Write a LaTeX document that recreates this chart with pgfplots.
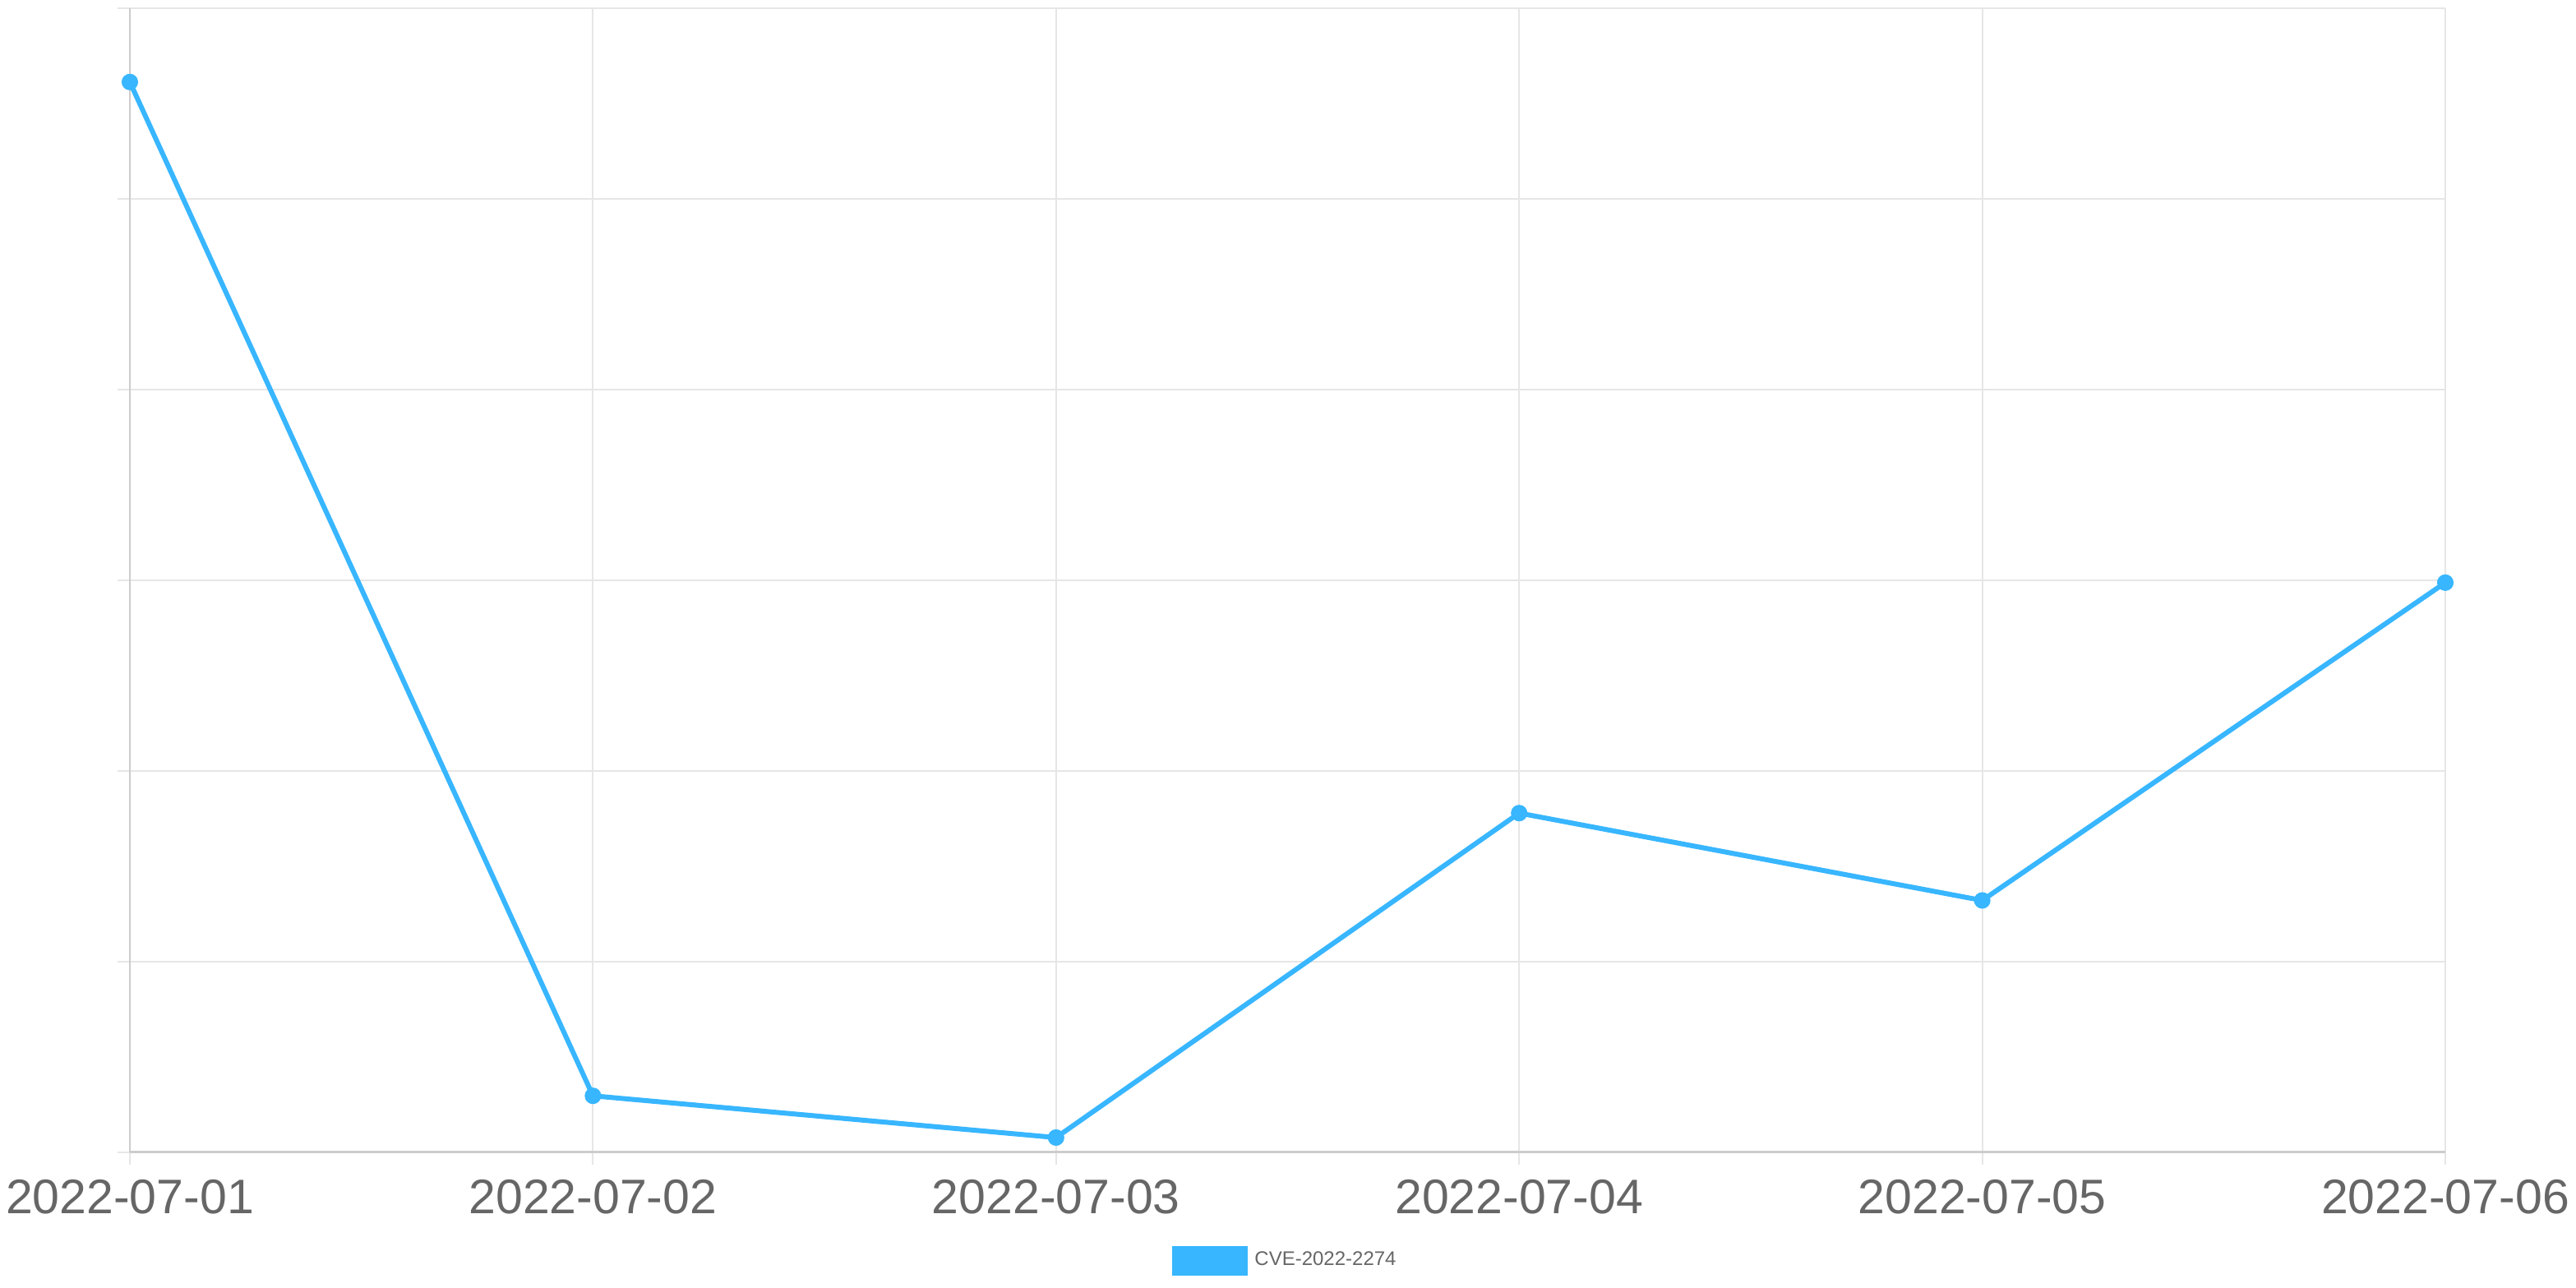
\documentclass[border=0pt]{standalone}
\usepackage{pgfplots}
\pgfplotsset{compat=1.18}
\usepackage{fontspec}
\setmainfont{Liberation Sans}
\definecolor{cve}{HTML}{38B6FF}
\definecolor{gridc}{HTML}{E6E6E6}
\definecolor{axc}{HTML}{CCCCCC}
\definecolor{txt}{HTML}{666666}
\begin{document}
\begin{tikzpicture}
\useasboundingbox (-39.5pt,-41.1pt) rectangle (744pt,350.4pt);
\begin{axis}[
  at={(0,0)}, anchor=south west,
  scale only axis, width=704.25pt, height=347.9pt,
  xmin=0, xmax=5, ymin=0, ymax=6,
  xtick={0,1,2,3,4,5},
  xticklabels={2022-07-01,2022-07-02,2022-07-03,2022-07-04,2022-07-05,2022-07-06},
  ytick={0,1,2,3,4,5,6}, yticklabels={},
  axis x line*=bottom, axis y line*=left,
  axis line style={axc, line width=0.6pt, -},
  grid=major, major grid style={gridc, line width=0.5pt},
  tick align=outside, major tick length=3.75pt,
  tick style={gridc, line width=0.5pt},
  xticklabel style={font=\fontsize{14.75}{16}\selectfont, text=txt, inner sep=0pt, anchor=north, yshift=-4.5pt},
  clip=false,
  legend style={at={(0.5,-0.0949)}, anchor=center, draw=none, fill=none,
    font=\fontsize{6}{7}\selectfont, text=txt},
  legend image code/.code={\fill[cve] (0pt,-3.75pt) rectangle (21.5pt,3.75pt);},
]
\addplot[cve, line width=1.5pt, mark=*, mark size=1.75pt, mark options={fill=cve, draw=cve}]
  coordinates {(0,5.613) (1,0.295) (2,0.076) (3,1.778) (4,1.320) (5,2.987)};
\addlegendentry{CVE-2022-2274}
\end{axis}
\end{tikzpicture}
\end{document}
